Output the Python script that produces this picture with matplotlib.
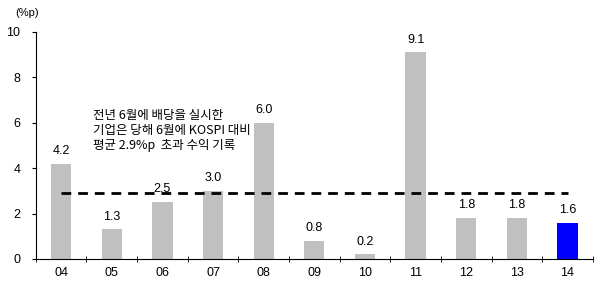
import matplotlib.pyplot as plt
import numpy as np

years = ['04', '05', '06', '07', '08', '09', '10', '11', '12', '13', '14']
excess = [4.2, 1.3, 2.5, 3.0, 6.0, 0.8, 0.2, 9.1, 1.8, 1.8, 1.6]
avg_excess = 2.9
note = '전년 6월에 배당을 실시한\n기업은 당해 6월에 KOSPI 대비\n평균 2.9%p  초과 수익 기록'

plt.rcParams['font.family'] = ['Liberation Sans', 'Noto Sans CJK KR']

fig = plt.figure(figsize=(5.97, 2.82), dpi=100)
ax = fig.add_axes([0.060, 0.0816, 0.933, 0.805])

x = np.arange(len(years))
colors = ['#c0c0c0'] * (len(years) - 1) + ['#0000ff']
ax.bar(x, excess, width=0.4, color=colors)
for xi, v in zip(x, excess):
    ax.text(xi, v + 0.3, f'{v:.1f}', ha='center', va='bottom', fontsize=9)

# 평균선
ax.plot([x[0], x[-1]], [avg_excess, avg_excess], color='black', lw=2,
        linestyle=(0, (3.5, 2.5)))

ax.text(0.62, 6.6, note, ha='left', va='top', fontsize=9, linespacing=1.2,
        family=['Noto Sans CJK KR', 'Liberation Sans'])

ax.set_xlim(-0.5, len(years) - 0.5)
ax.set_ylim(0, 10)
ax.set_yticks(range(0, 11, 2))
ax.set_xticks(x)
ax.set_xticklabels(years, fontsize=9)
ax.set_xticks(np.arange(-0.5, len(years), 1), minor=True)
ax.tick_params(axis='x', which='major', length=0, pad=6)
ax.tick_params(axis='x', which='minor', length=4, direction='inout')
ax.tick_params(axis='y', labelsize=9, length=3, direction='out', pad=8)
ax.spines['top'].set_visible(False)
ax.spines['right'].set_visible(False)

fig.text(0.045, 0.955, '(%p)', fontsize=8, ha='center', va='center')

fig.savefig('out.png', dpi=100)
